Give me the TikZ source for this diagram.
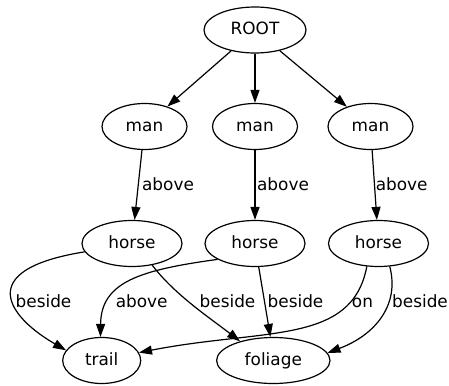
\documentclass[tikz,border=0pt]{standalone}
\usepackage{fontspec}
\setmainfont{DejaVu Sans}
\usetikzlibrary{arrows.meta,shapes.geometric}
\begin{document}
\begin{tikzpicture}[x=1pt,y=-1pt,
  every node/.style={font=\fontsize{16.9}{20}\selectfont},
  nd/.style={draw, ellipse, line width=1.2pt, inner sep=0pt, minimum height=46pt,
             text height=12.5pt, text depth=2.9pt},
  lbl/.style={anchor=base, inner sep=0pt},
  conn/.style={line width=1.2pt, -{Triangle[length=13pt,width=9pt]}}
]
\useasboundingbox (0,0) rectangle (449,385);
% nodes
\node[nd, minimum width=102pt] (root) at (255,30) {ROOT};
\node[nd, minimum width=85pt] (m1) at (144.5,126.5) {man};
\node[nd, minimum width=85pt] (m2) at (255,126.5) {man};
\node[nd, minimum width=85pt] (m3) at (370.5,126.5) {man};
\node[nd, minimum width=100pt] (h1) at (132,243.5) {horse};
\node[nd, minimum width=100pt] (h2) at (255,243.5) {horse};
\node[nd, minimum width=100pt] (h3) at (378.5,243.5) {horse};
\node[nd, minimum width=78pt] (trail) at (101.7,360.5) {trail};
\node[nd, minimum width=113.4pt] (foliage) at (273.3,360.5) {foliage};
% connectors
\draw[conn] (root) -- (m1);
\draw[conn] (root) -- (m2);
\draw[conn] (root) -- (m3);
\draw[conn] (m1) -- (h1);
\draw[conn] (m2) -- (h2);
\draw[conn] (m3) -- (h3);
\draw[conn] (h1.190) .. controls (-29,270) and (10,318) .. (trail.164);
\draw[conn] (h1.-47) .. controls (175,295) and (210,318) .. (foliage.150);
\draw[conn] (h2.203) .. controls (140,270) and (101,282) .. (trail.93);
\draw[conn] (h2.-81) -- (foliage.97);
\draw[conn] (h3.-117) .. controls (352,345) and (265,328) .. (trail.12);
\draw[conn] (h3.-64) .. controls (400,305) and (375,335) .. (foliage.8);
% labels
\node[lbl] (l1) at (168,190.7) {above};
\node[lbl] (l2) at (283,190.7) {above};
\node[lbl] (l3) at (401.7,190.7) {above};
\node[lbl] (l4) at (43.5,307) {beside};
\node[lbl] (l5) at (141.7,307) {above};
\node[lbl] (l6) at (227.5,307) {beside};
\node[lbl] (l7) at (295.5,307) {beside};
\node[lbl] (l8) at (362.5,307) {on};
\node[lbl] (l9) at (420,307) {beside};
\end{tikzpicture}
\end{document}
